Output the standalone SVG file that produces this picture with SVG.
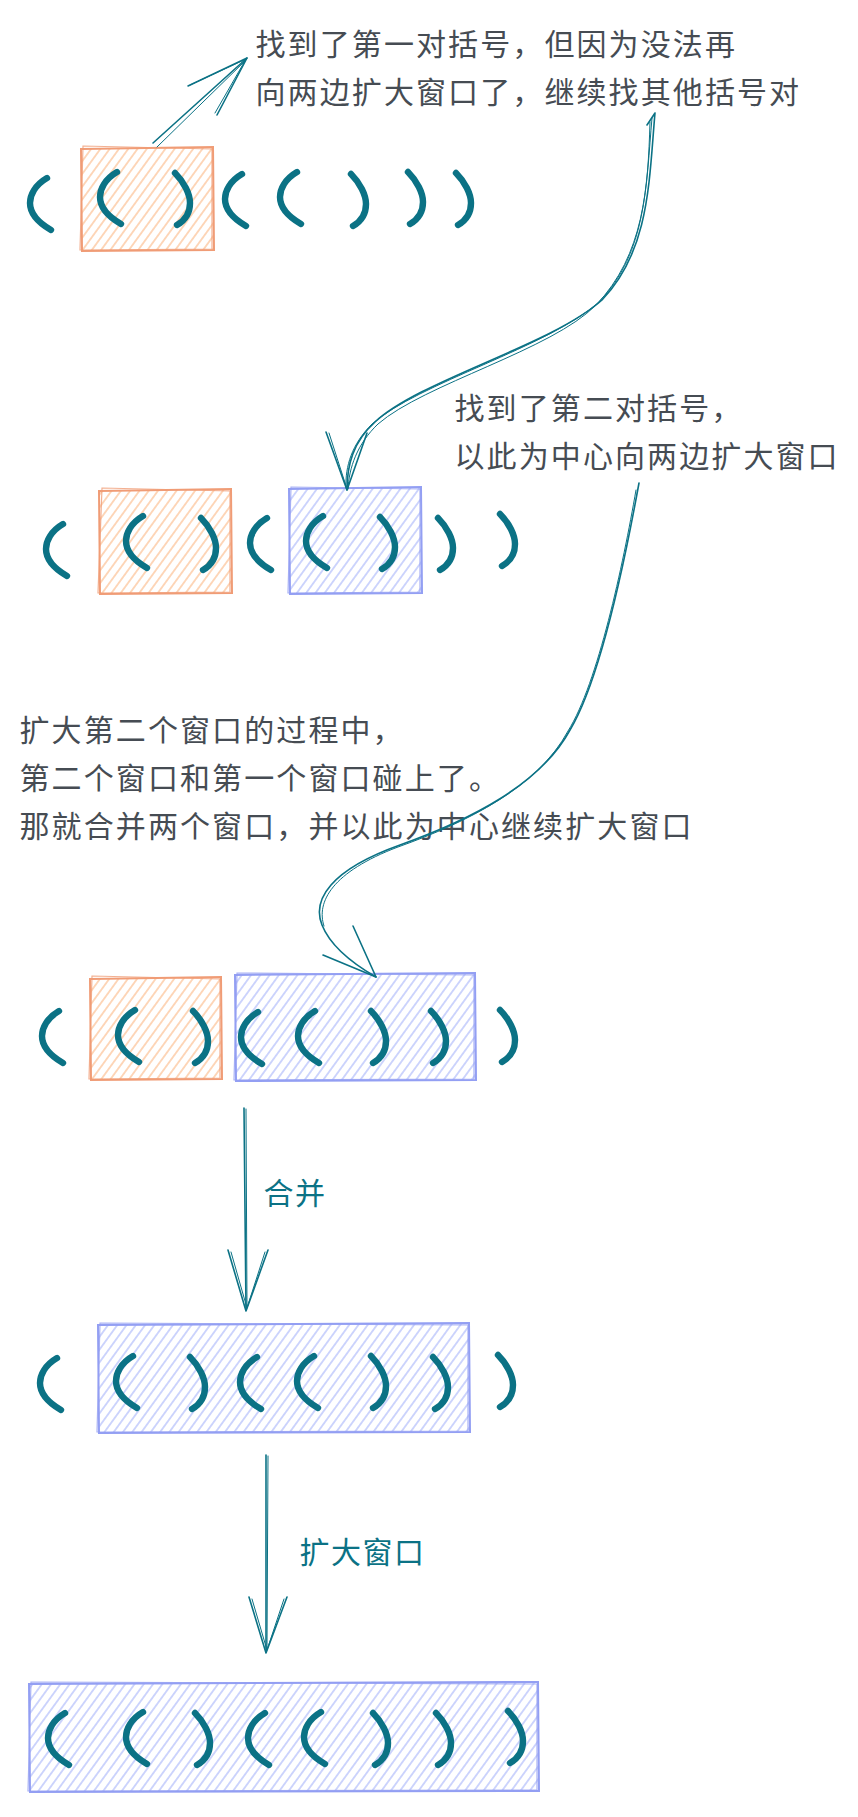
<svg xmlns="http://www.w3.org/2000/svg" width="858" height="1817" viewBox="0 0 858 1817">
<defs>
<style>
.t{font-family:"Noto Sans CJK SC","Noto Sans",sans-serif;font-size:30px;fill:#464c53;letter-spacing:2.1px}
.lb{font-family:"Noto Sans CJK SC","Noto Sans",sans-serif;font-size:30px;fill:#0b7285;letter-spacing:1.5px}
.br{fill:none;stroke:#0b7285;stroke-width:6.4;stroke-linecap:round;stroke-linejoin:round}
.ar{fill:none;stroke:#0b7285;stroke-width:1.6;stroke-linecap:round;stroke-linejoin:round}
.ar2{fill:none;stroke:#0b7285;stroke-width:1;stroke-linecap:round;stroke-linejoin:round}
.ob{fill:none;stroke:#f09c76;stroke-width:2}
.ob2{fill:none;stroke:#f09c76;stroke-width:1.2;opacity:.8}
.bb{fill:none;stroke:#939ff3;stroke-width:2}
.bb2{fill:none;stroke:#939ff3;stroke-width:1.2;opacity:.8}
</style>
<pattern id="ho" patternUnits="userSpaceOnUse" width="7.5" height="9" patternTransform="rotate(36)"><line x1="3.75" y1="-1" x2="3.75" y2="10" stroke="#fbb784" stroke-width="1.1"/></pattern>
<pattern id="hb" patternUnits="userSpaceOnUse" width="7.5" height="9" patternTransform="rotate(36)"><line x1="3.75" y1="-1" x2="3.75" y2="10" stroke="#a7b4fa" stroke-width="1.1"/></pattern>
<path id="lp" d="M 20,3 C 8,10 3,20 3,28 C 3,39 12,48 24,55"/>
<path id="rp" d="M 3,3 C 12,12 18,24 18,33 C 18,44 12,51 5,55"/>
</defs>
<rect width="858" height="1817" fill="#ffffff"/>

<!-- windows -->
<g id="win-r1-orange">
<rect x="81" y="148" width="132" height="102" fill="url(#ho)"/>
<path class="ob" d="M81,149 L213,147 L214,250 L82,251 Z"/>
<path class="ob2" d="M83,146 L212,149 L212,249 L80,250 Z"/>
</g>
<g id="win-r2-orange">
<rect x="99" y="490" width="132" height="103" fill="url(#ho)"/>
<path class="ob" d="M99,491 L231,489 L232,593 L100,594 Z"/>
<path class="ob2" d="M102,488 L230,491 L230,592 L98,593 Z"/>
</g>
<g id="win-r2-blue">
<rect x="289" y="488" width="132" height="105" fill="url(#hb)"/>
<path class="bb" d="M289,489 L421,487 L422,593 L290,594 Z"/>
<path class="bb2" d="M291,487 L420,489 L420,592 L288,593 Z"/>
</g>
<g id="win-r3-orange">
<rect x="90" y="978" width="131" height="101" fill="url(#ho)"/>
<path class="ob" d="M90,979 L221,977 L222,1079 L91,1080 Z"/>
<path class="ob2" d="M92,976 L220,979 L220,1078 L89,1079 Z"/>
</g>
<g id="win-r3-blue">
<rect x="235" y="974" width="240" height="106" fill="url(#hb)"/>
<path class="bb" d="M235,975 L475,973 L476,1080 L236,1081 Z"/>
<path class="bb2" d="M237,973 L474,975 L474,1079 L234,1080 Z"/>
</g>
<g id="win-r4-blue">
<rect x="98" y="1324" width="371" height="108" fill="url(#hb)"/>
<path class="bb" d="M98,1325 L469,1323 L470,1432 L99,1433 Z"/>
<path class="bb2" d="M100,1323 L468,1325 L468,1431 L97,1432 Z"/>
</g>
<g id="win-r5-blue">
<rect x="29" y="1683" width="509" height="108" fill="url(#hb)"/>
<path class="bb" d="M29,1684 L538,1682 L539,1791 L30,1792 Z"/>
<path class="bb2" d="M31,1682 L537,1684 L537,1790 L28,1791 Z"/>
</g>

<!-- brackets -->
<g id="brackets-r1">
<use href="#lp" class="br" x="27" y="175"/>
<use href="#lp" class="br" x="97" y="169"/>
<use href="#rp" class="br" x="172" y="170"/>
<use href="#lp" class="br" x="222" y="171"/>
<use href="#lp" class="br" x="277" y="169"/>
<use href="#rp" class="br" x="348" y="171"/>
<use href="#rp" class="br" x="405" y="169"/>
<use href="#rp" class="br" x="453" y="170"/>
</g>
<g id="brackets-r2">
<use href="#lp" class="br" x="43" y="521"/>
<use href="#lp" class="br" x="123" y="513"/>
<use href="#rp" class="br" x="198" y="515"/>
<use href="#lp" class="br" x="247" y="515"/>
<use href="#lp" class="br" x="303" y="513"/>
<use href="#rp" class="br" x="377" y="514"/>
<use href="#rp" class="br" x="435" y="515"/>
<use href="#rp" class="br" x="497" y="511"/>
</g>
<g id="brackets-r3">
<use href="#lp" class="br" x="39" y="1008"/>
<use href="#lp" class="br" x="115" y="1007"/>
<use href="#rp" class="br" x="190" y="1008"/>
<use href="#lp" class="br" x="238" y="1009"/>
<use href="#lp" class="br" x="295" y="1008"/>
<use href="#rp" class="br" x="368" y="1008"/>
<use href="#rp" class="br" x="428" y="1008"/>
<use href="#rp" class="br" x="497" y="1007"/>
</g>
<g id="brackets-r4">
<use href="#lp" class="br" x="37" y="1355"/>
<use href="#lp" class="br" x="113" y="1353"/>
<use href="#rp" class="br" x="187" y="1354"/>
<use href="#lp" class="br" x="237" y="1354"/>
<use href="#lp" class="br" x="294" y="1353"/>
<use href="#rp" class="br" x="368" y="1353"/>
<use href="#rp" class="br" x="430" y="1354"/>
<use href="#rp" class="br" x="495" y="1352"/>
</g>
<g id="brackets-r5">
<use href="#lp" class="br" x="45" y="1710"/>
<use href="#lp" class="br" x="123" y="1709"/>
<use href="#rp" class="br" x="192" y="1710"/>
<use href="#lp" class="br" x="245" y="1710"/>
<use href="#lp" class="br" x="301" y="1709"/>
<use href="#rp" class="br" x="370" y="1710"/>
<use href="#rp" class="br" x="433" y="1710"/>
<use href="#rp" class="br" x="505" y="1708"/>
</g>

<!-- texts -->
<g id="note-1">
<text class="t" x="255.5" y="54.5">找到了第一对括号，但因为没法再</text>
<text class="t" x="255.5" y="102.5">向两边扩大窗口了，继续找其他括号对</text>
</g>
<g id="note-2">
<text class="t" x="454.5" y="419">找到了第二对括号，</text>
<text class="t" x="454.5" y="467">以此为中心向两边扩大窗口</text>
</g>
<g id="note-3">
<text class="t" x="19.5" y="741">扩大第二个窗口的过程中，</text>
<text class="t" x="19.5" y="789">第二个窗口和第一个窗口碰上了。</text>
<text class="t" x="19.5" y="837">那就合并两个窗口，并以此为中心继续扩大窗口</text>
</g>

<!-- connectors -->
<g id="connectors">
<path class="ar" d="M153,143 L247,58"/>
<path class="ar2" d="M157,147 L245,61"/>
<path class="ar" d="M188,86 L247,58 L217,115"/>
<path class="ar2" d="M190,85 L246,59 L215,113"/>

<path class="ar" d="M647,125 L655,113 C649,180 650,250 602,300 C552,345 420,380 375,422 C353,442 347,465 347,490"/>
<path class="ar2" d="M652,118 C646,185 647,252 599,302 C549,347 418,383 372,424 C352,444 345,466 346,488"/>
<path class="ar2" d="M650,122 C648,188 644,255 596,305 C552,350 424,384 378,424 C357,444 349,468 348,489"/>
<path class="ar" d="M326,432 L347,490 L367,433"/>
<path class="ar2" d="M329,433 L347,489"/>

<path class="ar" d="M639,483 C625,560 600,680 570,730 C540,785 470,820 400,845 C330,870 312,900 322,925 C330,945 350,962 376,977"/>
<path class="ar2" d="M636,490 C623,565 598,683 568,731 C538,787 468,822 398,847 C332,872 316,902 324,926"/>
<path class="ar" d="M323,955 L376,977 L353,926"/>

<path class="ar" d="M244,1108 L246,1310"/>
<path class="ar2" d="M246,1109 L247,1308"/>
<path class="ar" d="M228,1250 L246,1311 L268,1250"/>
<path class="ar2" d="M231,1252 L247,1308 L265,1252"/>

<path class="ar" d="M266,1455 L266,1652"/>
<path class="ar2" d="M268,1456 L267,1650"/>
<path class="ar" d="M249,1597 L266,1653 L287,1597"/>
<path class="ar2" d="M252,1599 L267,1650 L284,1599"/>
</g>
<g id="label-merge"><text class="lb" x="263.5" y="1204">合并</text></g>
<g id="label-expand"><text class="lb" x="299.5" y="1563">扩大窗口</text></g>
</svg>
